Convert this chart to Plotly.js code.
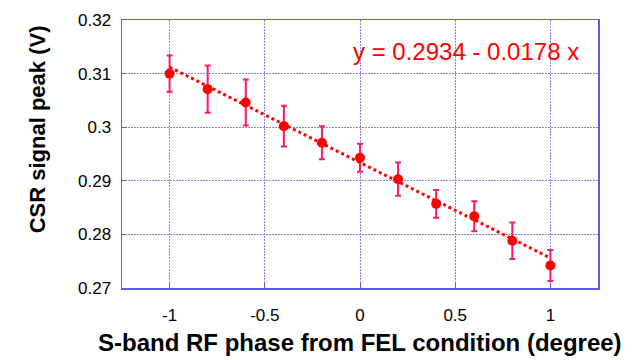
<!DOCTYPE html>
<html>
<head>
<meta charset="utf-8">
<script src="https://cdn.plot.ly/plotly-3.0.1.min.js"></script>
<style>html,body{margin:0;padding:0;background:#fff;}#chart{width:640px;height:360px;}</style>
</head>
<body>
<div id="chart"></div>
<script>
// Data
const phase = [-1, -0.8, -0.6, -0.4, -0.2, 0, 0.2, 0.4, 0.6, 0.8, 1];
const signalPeak = [0.3100, 0.3071, 0.3046, 0.3002, 0.2971, 0.2943, 0.2903, 0.2857, 0.2834, 0.2788, 0.2742];
const signalErr = [0.0034, 0.0044, 0.0043, 0.0038, 0.0031, 0.0026, 0.0031, 0.0026, 0.0028, 0.0034, 0.0029];
const fitX = [-1, 1];
const fitY = [0.3112, 0.2756];
const fitLabel = "y = 0.2934 - 0.0178 x";
const xTitle = "S-band RF phase from FEL condition (degree)";
const yTitle = "CSR signal peak (V)";
const xTicks = [-1, -0.5, 0, 0.5, 1];
const xTickText = ["-1", "-0.5", "0", "0.5", "1"];
const yTicks = [0.27, 0.28, 0.29, 0.30, 0.31, 0.32];
const yTickText = ["0.27", "0.28", "0.29", "0.3", "0.31", "0.32"];

const FONT = "Liberation Sans, Arial, sans-serif";
const gridColor = "#8484f0";
const axisColor = "#5a5ae6";

const traces = [
  {
    x: fitX, y: fitY, mode: "lines", type: "scatter",
    line: {color: "#ff0000", width: 3, dash: "dot"},
    hoverinfo: "skip", showlegend: false
  },
  {
    x: phase, y: signalPeak, mode: "markers", type: "scatter",
    marker: {color: "#ff0000", size: 10},
    error_y: {type: "data", array: signalErr, visible: true, color: "#ff1a66", thickness: 2, width: 3},
    showlegend: false
  }
];

const layout = {
  width: 640, height: 360,
  margin: {l: 122, r: 42, t: 20, b: 72},
  paper_bgcolor: "#ffffff", plot_bgcolor: "#ffffff",
  font: {family: FONT, color: "#000000", size: 17},
  xaxis: {
    range: [-1.25, 1.25],
    tickvals: xTicks, ticktext: xTickText,
    showgrid: true, gridcolor: gridColor, gridwidth: 1, griddash: "2px,1px",
    zeroline: false,
    showline: true, linecolor: axisColor, linewidth: 1.5, mirror: true,
    ticks: "inside", ticklen: 5, tickcolor: axisColor,
    tickfont: {size: 17}, ticklabelstandoff: 11
  },
  yaxis: {
    range: [0.27, 0.32],
    tickvals: yTicks, ticktext: yTickText,
    showgrid: true, gridcolor: gridColor, gridwidth: 1, griddash: "2px,1px",
    zeroline: false,
    showline: true, linecolor: axisColor, linewidth: 1.5, mirror: true,
    ticks: "inside", ticklen: 5, tickcolor: axisColor,
    tickfont: {size: 17}, ticklabelstandoff: 6
  },
  annotations: [
    {
      text: fitLabel, xref: "paper", yref: "paper", x: 0.723, y: 0.881,
      xanchor: "center", yanchor: "middle", showarrow: false,
      font: {size: 24, color: "#ff0000", family: FONT}
    },
    {
      text: "<b>" + yTitle + "</b>", xref: "paper", yref: "paper", x: -0.178, y: 0.593,
      xanchor: "center", yanchor: "middle", showarrow: false, textangle: -90,
      font: {size: 22, color: "#000000", family: FONT}
    },
    {
      text: "<b>" + xTitle + "</b>", xref: "paper", yref: "paper", x: 0.5, y: -0.204,
      xanchor: "center", yanchor: "middle", showarrow: false,
      font: {size: 24, color: "#000000", family: FONT}
    }
  ]
};

Plotly.newPlot("chart", traces, layout, {staticPlot: true, displayModeBar: false});
</script>
</body>
</html>
